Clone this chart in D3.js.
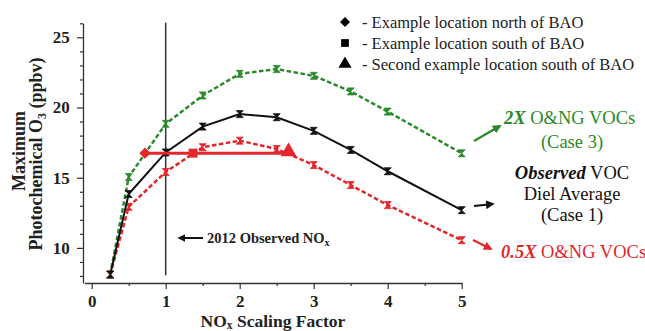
<!DOCTYPE html>
<html><head><meta charset="utf-8">
<script src="https://cdn.jsdelivr.net/npm/d3@7"></script>
<style>body{margin:0;background:#fff}svg{display:block}</style>
</head><body><svg id="c" width="645" height="331" font-family="Liberation Serif"></svg>
<script>
const noxFactor = [0.25, 0.5, 1, 1.5, 2, 2.5, 3, 3.5, 4, 5];
const voc2x     = [8.1, 15.05, 18.84, 20.86, 22.4, 22.74, 22.26, 21.15, 19.71, 16.74];
const vocObs    = [8.1, 13.84, 16.8, 18.64, 19.53, 19.31, 18.34, 16.98, 15.46, 12.69];
const voc05x    = [8.1, 12.93, 15.41, 17.17, 17.64, 17.05, 15.9, 14.48, 13.05, 10.55];
const locX = [0.72, 1.37, 2.66];
const locY = 16.75;
const observedNOx = 1;
const xTicks = [0, 1, 2, 3, 4, 5];
const yTicks = [10, 15, 20, 25];
const legendItems = ["- Example location north of BAO", "- Example location south of BAO", "- Second example location south of BAO"];

const FONT = "Liberation Serif";
const svg = d3.select("#c");
const x = d3.scaleLinear().domain([-0.1, 5]).range([84.3, 461.7]);
const y = d3.scaleLinear().domain([7.5, 26]).range([283, 23.3]);

const GREEN = "#2a8a2a", RED = "#e3262b", BLACK = "#111";

function txt(sel) { return sel.append("text").attr("font-family", FONT); }

// axes
const xMinor = d3.range(0.5, 5, 1);
const yMinor = d3.range(8, 26.01, 1).filter(v => v % 5 !== 0);
const xAx = svg.append("g").attr("transform", "translate(0,283)");
xAx.call(d3.axisBottom(x).tickValues(xTicks).tickFormat(d3.format("d")).tickSize(6).tickSizeOuter(0));
xAx.append("g").call(d3.axisBottom(x).tickValues(xMinor).tickFormat("").tickSize(3).tickSizeOuter(0)).select(".domain").remove();
const yAx = svg.append("g").attr("transform", "translate(83,0)");
yAx.call(d3.axisLeft(y).tickValues(yTicks).tickFormat(d3.format("d")).tickSize(6).tickSizeOuter(0));
yAx.append("g").call(d3.axisLeft(y).tickValues(yMinor).tickFormat("").tickSize(3).tickSizeOuter(0)).select(".domain").remove();
xAx.attr("font-family", FONT); yAx.attr("font-family", FONT);
svg.selectAll(".domain").attr("stroke", "#333").attr("stroke-width", 1.3);
svg.selectAll(".tick line").attr("stroke", "#333").attr("stroke-width", 1.2);
svg.selectAll(".tick text").attr("font-size", 17).attr("font-weight", "bold").attr("fill", "#222").attr("font-family", FONT);
xAx.selectAll(".tick text").attr("y", 8).attr("dy", "0.97em");
yAx.selectAll(".tick text").attr("dx", "-0.25em");

// vertical observed NOx line
svg.append("line").attr("x1", x(observedNOx)).attr("x2", x(observedNOx)).attr("y1", y(26.05)).attr("y2", y(8.05))
  .attr("stroke", "#333").attr("stroke-width", 1.5);

// arrowheads
const defs = svg.append("defs");
function mk(id, col) {
  defs.append("marker").attr("id", id).attr("viewBox", "0 0 10 10").attr("refX", 8).attr("refY", 5)
    .attr("markerWidth", 4).attr("markerHeight", 4).attr("orient", "auto")
    .append("path").attr("d", "M0,0 L10,5 L0,10 Z").attr("fill", col);
}
mk("aK", BLACK); mk("aG", GREEN); mk("aR", RED);

const line = d3.line().x((d, i) => x(noxFactor[i])).y(d => y(d));
const hour = "M-3.5,-3.5 L3.5,-3.5 L-3.5,3.5 L3.5,3.5 Z";
function series(vals, col, dash, w) {
  svg.append("path").datum(vals).attr("d", line).attr("fill", "none").attr("stroke", col)
    .attr("stroke-width", w).attr("stroke-dasharray", dash);
  svg.append("g").selectAll("path").data(vals).join("path")
    .attr("transform", (d, i) => `translate(${x(noxFactor[i])},${y(d)})`)
    .attr("d", hour).attr("fill", col).attr("stroke", col).attr("stroke-width", 0.8);
}
series(voc2x, GREEN, "4.5,2.5", 2.5);
series(voc05x, RED, "4.5,2.5", 2.5);
series(vocObs, BLACK, null, 2);

// red location line + markers
svg.append("line").attr("x1", x(locX[0])).attr("x2", x(locX[2])).attr("y1", y(locY)).attr("y2", y(locY))
  .attr("stroke", RED).attr("stroke-width", 3);
const sym = [d3.symbolSquare, d3.symbolSquare, d3.symbolTriangle];
const rot = [45, 0, 0];
const sz = [64, 80, 110];
svg.append("g").selectAll("path").data(locX).join("path")
  .attr("transform", (d, i) => `translate(${x(d)},${y(locY) - (i === 2 ? 1.5 : 0)}) rotate(${rot[i]})`)
  .attr("d", (d, i) => d3.symbol(sym[i], sz[i])())
  .attr("fill", RED);

// legend
const lg = svg.append("g");
legendItems.forEach((t, i) => {
  const cy = 22 + i * 21;
  lg.append("path").attr("transform", `translate(345,${cy}) rotate(${rot[i]})`).attr("d", d3.symbol(sym[i], [50, 60, 75][i])()).attr("fill", "#000");
  txt(lg).attr("x", 362).attr("y", cy + 5.5).attr("font-size", 16.5).attr("fill", "#222").text(t);
});

// 2012 observed NOx annotation
svg.append("line").attr("x1", 203).attr("x2", 179).attr("y1", 238).attr("y2", 238)
  .attr("stroke", BLACK).attr("stroke-width", 2).attr("marker-end", "url(#aK)");
const t1 = txt(svg).attr("x", 207).attr("y", 243).attr("font-size", 14.5).attr("font-weight", "bold").attr("fill", "#222");
t1.append("tspan").text("2012 Observed NO");
t1.append("tspan").attr("font-size", 10).attr("dy", 3).text("x");

// right annotations
const FS = 18.5;
const tg = txt(svg).attr("x", 504).attr("y", 124).attr("font-size", FS).attr("fill", GREEN);
tg.append("tspan").attr("font-style", "italic").attr("font-weight", "bold").text("2X");
tg.append("tspan").text(" O&NG VOCs");
txt(svg).attr("x", 572).attr("y", 148).attr("text-anchor", "middle").attr("font-size", FS).attr("fill", GREEN).text("(Case 3)");
svg.append("line").attr("x1", 474).attr("y1", 141).attr("x2", 500).attr("y2", 126).attr("stroke", GREEN).attr("stroke-width", 2.2).attr("marker-end", "url(#aG)");

const tb = txt(svg).attr("x", 572).attr("y", 179).attr("text-anchor", "middle").attr("font-size", FS).attr("fill", BLACK);
tb.append("tspan").attr("font-style", "italic").attr("font-weight", "bold").text("Observed");
tb.append("tspan").text(" VOC");
txt(svg).attr("x", 572).attr("y", 200).attr("text-anchor", "middle").attr("font-size", FS).attr("fill", BLACK).text("Diel Average");
txt(svg).attr("x", 572).attr("y", 221).attr("text-anchor", "middle").attr("font-size", FS).attr("fill", BLACK).text("(Case 1)");
svg.append("line").attr("x1", 474).attr("y1", 206).attr("x2", 493).attr("y2", 204).attr("stroke", BLACK).attr("stroke-width", 2.2).attr("marker-end", "url(#aK)");

const tr = txt(svg).attr("x", 501).attr("y", 258).attr("font-size", FS).attr("fill", RED);
tr.append("tspan").attr("font-style", "italic").attr("font-weight", "bold").text("0.5X");
tr.append("tspan").text(" O&NG VOCs");
svg.append("line").attr("x1", 473).attr("y1", 240).attr("x2", 491).attr("y2", 249).attr("stroke", RED).attr("stroke-width", 2.2).attr("marker-end", "url(#aR)");

// axis titles
txt(svg).attr("transform", "translate(25,151) rotate(-90)").attr("text-anchor", "middle")
  .attr("font-size", 18).attr("font-weight", "bold").attr("fill", "#222").text("Maximum");
const yt = txt(svg).attr("transform", "translate(42,154) rotate(-90)").attr("text-anchor", "middle")
  .attr("font-size", 18).attr("font-weight", "bold").attr("fill", "#222");
yt.append("tspan").text("Photochemical O");
yt.append("tspan").attr("font-size", 12).attr("dy", 4).text("3");
yt.append("tspan").attr("dy", -4).text(" (ppbv)");
const xt = txt(svg).attr("x", 273).attr("y", 327).attr("text-anchor", "middle")
  .attr("font-size", 17.5).attr("font-weight", "bold").attr("fill", "#222");
xt.append("tspan").text("NO");
xt.append("tspan").attr("font-size", 11.5).attr("dy", 2).text("x");
xt.append("tspan").attr("dy", -2).text(" Scaling Factor");
</script></body></html>
